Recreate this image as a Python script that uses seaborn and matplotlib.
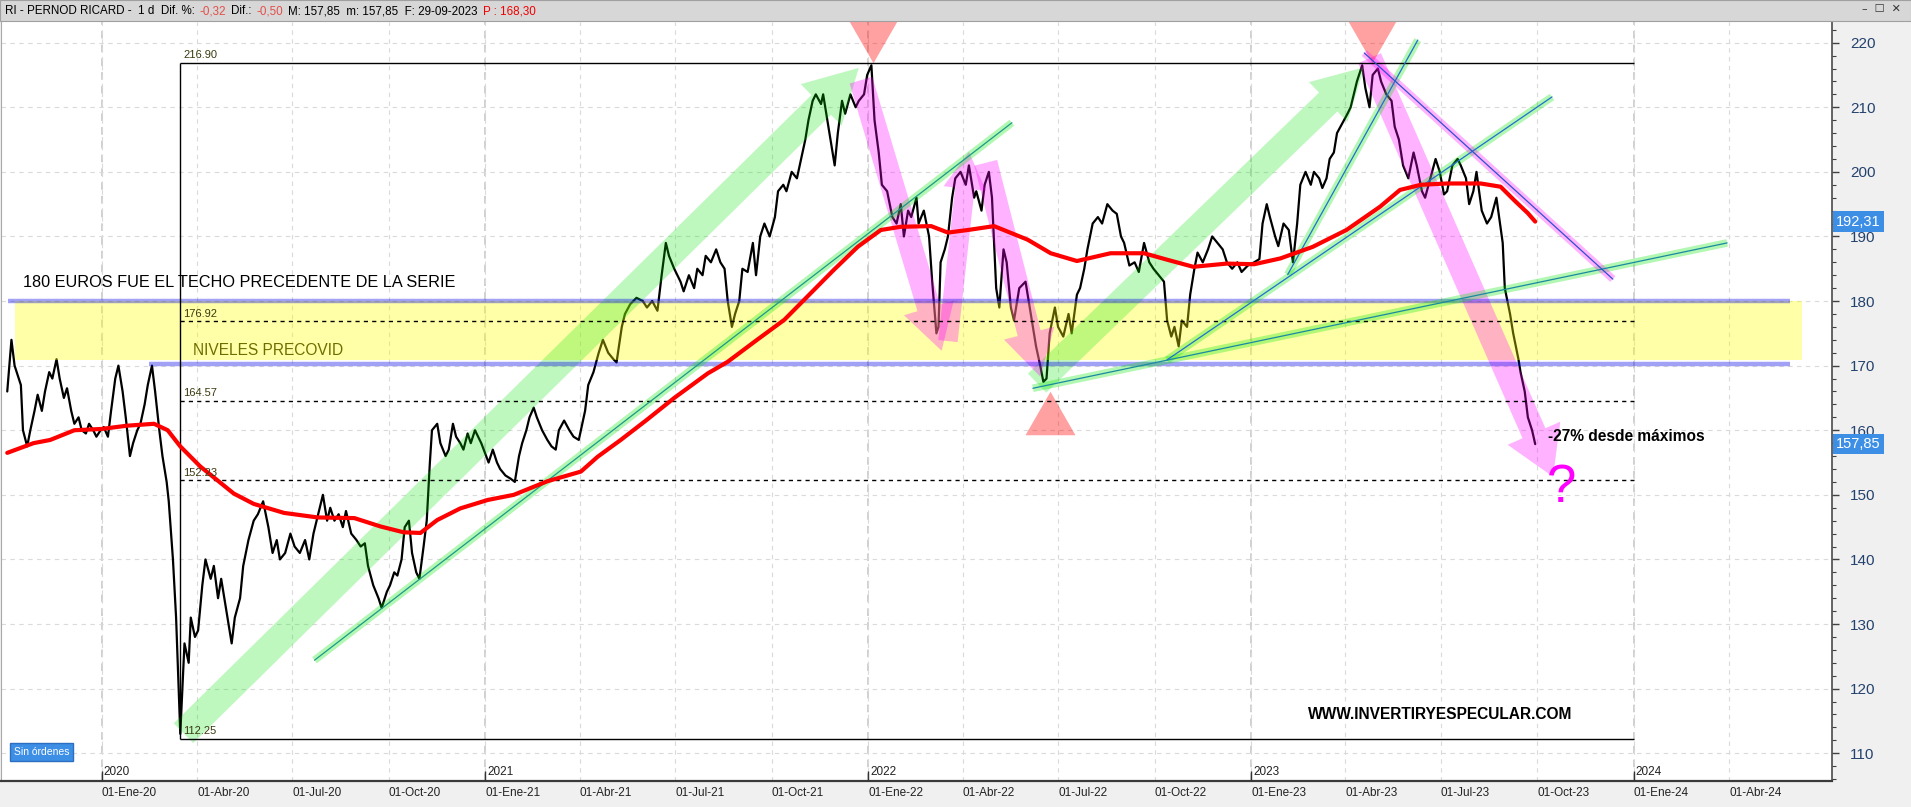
import pandas as pd
import matplotlib
matplotlib.use("Agg")
import matplotlib.pyplot as plt
import matplotlib.dates as mdates
import matplotlib.ticker as mticker
from matplotlib.patches import Rectangle
import seaborn as sns

# ---------------- datos (cierres aprox.) ----------------
fechas_2019 = ["10-03", "10-07", "10-10", "10-14", "10-16", "10-18", "10-22", "10-25", "10-29",
               "11-01", "11-05", "11-08", "11-12", "11-15", "11-19", "11-22", "11-26", "11-29",
               "12-03", "12-06", "12-10", "12-13", "12-17", "12-20", "12-24", "12-27", "12-31"]
cierre_2019 = [166, 174, 170, 168, 167, 160, 157.5, 160, 163,
               165.5, 163, 166, 169, 168, 171, 168, 165, 166.5,
               163, 161, 162, 160, 159.5, 161, 160, 159, 160]

fechas_2020 = ["01-03", "01-07", "01-10", "01-14", "01-17", "01-21", "01-24", "01-28", "01-31",
               "02-04", "02-07", "02-11", "02-14", "02-18", "02-21", "02-25", "02-28",
               "03-03", "03-05", "03-09", "03-12", "03-16", "03-18", "03-20", "03-24", "03-26", "03-30",
               "04-02", "04-06", "04-09", "04-14", "04-17", "04-21", "04-24", "04-28",
               "05-01", "05-04", "05-07", "05-12", "05-15", "05-20", "05-25", "05-29",
               "06-03", "06-08", "06-12", "06-16", "06-19", "06-24", "06-29",
               "07-03", "07-08", "07-13", "07-17", "07-21", "07-27", "07-30",
               "08-03", "08-06", "08-10", "08-14", "08-18", "08-21", "08-26", "08-31",
               "09-04", "09-08", "09-11", "09-16", "09-21", "09-24", "09-29",
               "10-02", "10-06", "10-09", "10-13", "10-16", "10-20", "10-23", "10-27", "10-30",
               "11-03", "11-06", "11-09", "11-11", "11-16", "11-19", "11-24", "11-27",
               "12-01", "12-04", "12-08", "12-11", "12-15", "12-18", "12-22", "12-28"]
cierre_2020 = [160.5, 159, 163, 168, 170, 166, 162, 156, 158,
               160, 161, 164, 167, 170, 166, 160, 156,
               152, 149, 140, 131, 113, 120, 127, 124, 131, 128,
               129, 136, 140, 137, 139, 134, 137, 133,
               130, 127, 131, 134, 139, 143, 146, 147,
               149, 145, 141, 143, 140, 141, 144,
               142, 141, 143, 140, 144, 148, 150,
               146, 148, 146, 147, 145, 147.5, 144, 143,
               142, 142.5, 139, 136, 134, 132.5, 135,
               136, 138, 137.5, 140, 145, 146, 141, 138, 137,
               142, 146, 155, 160, 161, 158, 156, 157,
               161, 159, 158, 157, 159.5, 158, 160, 158]

fechas_2021 = ["01-04", "01-08", "01-12", "01-15", "01-20", "01-25", "01-29",
               "02-02", "02-05", "02-09", "02-12", "02-16", "02-19", "02-24",
               "03-01", "03-05", "03-09", "03-12", "03-17", "03-22", "03-26", "03-31",
               "04-06", "04-09", "04-14", "04-19", "04-23", "04-28",
               "05-03", "05-06", "05-11", "05-14", "05-19", "05-25", "05-31",
               "06-04", "06-09", "06-14", "06-18", "06-22", "06-25", "06-30",
               "07-06", "07-09", "07-14", "07-19", "07-22", "07-27", "07-30",
               "08-04", "08-09", "08-13", "08-17", "08-20", "08-24", "08-27", "08-31",
               "09-03", "09-08", "09-13", "09-16", "09-20", "09-24", "09-29",
               "10-04", "10-07", "10-12", "10-15", "10-20", "10-25", "10-29",
               "11-02", "11-05", "11-09", "11-12", "11-17", "11-19", "11-23", "11-26", "11-30",
               "12-03", "12-07", "12-10", "12-15", "12-20", "12-23", "12-28", "12-31"]
cierre_2021 = [155, 157, 155, 154, 153, 152.5, 152,
               156, 158, 160, 162, 163.5, 162, 160,
               158.5, 157.5, 157, 160, 161.5, 160, 159, 158.5,
               163, 167, 169, 172, 174, 172,
               171, 170.5, 176, 178, 179.5, 180.5, 180,
               179, 180, 178.5, 184, 189, 187, 185,
               183, 181.5, 184, 182, 185, 184, 187,
               186, 188, 186, 185, 180, 176, 178, 180,
               185, 184.5, 189, 184, 190, 192, 190,
               193, 197, 198, 197, 200, 199, 202,
               205, 208, 211, 212, 210.5, 212, 208, 205, 201,
               206, 211, 209, 212, 210, 211, 212, 215]

fechas_2022 = ["01-04", "01-07", "01-11", "01-14", "01-19", "01-24", "01-28",
               "02-01", "02-04", "02-08", "02-11", "02-16", "02-18", "02-23", "02-28",
               "03-03", "03-07", "03-09", "03-11", "03-15", "03-18", "03-22", "03-25", "03-30",
               "04-04", "04-07", "04-12", "04-14", "04-19", "04-22", "04-26", "04-29",
               "05-03", "05-06", "05-10", "05-13", "05-17", "05-20", "05-25", "05-31",
               "06-03", "06-07", "06-10", "06-14", "06-17", "06-20", "06-23", "06-28",
               "07-01", "07-06", "07-11", "07-14", "07-19", "07-22", "07-26", "07-29",
               "08-03", "08-08", "08-12", "08-17", "08-22", "08-26", "08-30",
               "09-02", "09-07", "09-12", "09-16", "09-21", "09-26", "09-30",
               "10-05", "10-10", "10-13", "10-17", "10-20", "10-24", "10-27",
               "11-01", "11-04", "11-08", "11-11", "11-16", "11-21", "11-25", "11-30",
               "12-05", "12-09", "12-14", "12-19", "12-23", "12-29"]
cierre_2022 = [216.5, 208, 203, 198, 197, 193, 192,
               195, 190, 194, 193, 196, 192, 194, 190,
               183, 175, 176, 186, 188, 190, 196, 199, 200,
               198, 201, 196, 197, 194, 198, 200, 196,
               182, 179, 188, 186, 179, 177, 182, 183,
               180, 176, 173, 170, 167.5, 168, 175, 179,
               176, 174.5, 178, 175, 181, 182, 185, 188,
               192, 193, 192, 195, 194, 193.5, 190,
               189, 185.5, 186, 184.5, 189, 186, 185,
               184, 183, 177, 174.5, 176, 173, 177,
               176, 181, 185, 187.5, 186, 188, 190, 189,
               188, 186, 185, 186, 184.5, 185.5]

fechas_2023 = ["01-04", "01-09", "01-12", "01-16", "01-19", "01-24", "01-27",
               "02-01", "02-06", "02-10", "02-14", "02-17", "02-22", "02-27",
               "03-02", "03-07", "03-10", "03-14", "03-17", "03-21", "03-24", "03-29",
               "04-03", "04-06", "04-12", "04-17", "04-20", "04-24", "04-27",
               "05-02", "05-05", "05-10", "05-15", "05-18", "05-22", "05-26", "05-31",
               "06-05", "06-08", "06-13", "06-16", "06-21", "06-26", "06-30",
               "07-04", "07-07", "07-12", "07-17", "07-20", "07-25", "07-28",
               "08-01", "08-04", "08-09", "08-14", "08-18", "08-23", "08-29", "08-31",
               "09-05", "09-08", "09-13", "09-15", "09-19", "09-22", "09-26", "09-29"]
cierre_2023 = [186, 186.5, 192, 195, 193, 190, 188.5,
               192, 191, 186, 192, 198, 200, 198,
               200, 199, 197.5, 199, 202, 203, 206, 207.5,
               209, 210, 214, 216.5, 213, 210, 215,
               216, 214, 212, 211, 207, 205, 201, 199,
               203, 201, 197, 196, 199, 202, 200,
               196.5, 197, 201, 202, 201, 199, 195,
               197, 200, 194, 192, 193, 196, 189, 182,
               178, 175, 171, 169, 166, 162, 160, 157.85]

# media movil (linea roja)
ma_fechas = ["2019-10-03", "2019-10-28", "2019-11-13", "2019-12-06", "2020-01-01", "2020-01-25",
             "2020-02-20", "2020-03-04", "2020-03-16", "2020-04-04", "2020-04-20", "2020-05-06",
             "2020-05-25", "2020-06-23", "2020-07-25", "2020-08-29", "2020-09-23", "2020-10-15",
             "2020-10-31", "2020-11-16", "2020-12-08", "2021-01-03", "2021-01-28", "2021-03-01",
             "2021-04-02", "2021-04-18", "2021-05-10", "2021-06-03", "2021-06-30", "2021-08-01",
             "2021-08-20", "2021-09-17", "2021-10-13", "2021-11-04", "2021-11-29", "2021-12-22",
             "2022-01-13", "2022-02-01", "2022-03-02", "2022-03-18", "2022-04-06", "2022-05-01",
             "2022-06-02", "2022-06-24", "2022-07-19", "2022-08-20", "2022-09-21", "2022-10-13",
             "2022-11-07", "2022-12-09", "2023-01-04", "2023-01-29", "2023-03-01", "2023-04-02",
             "2023-05-04", "2023-05-23", "2023-06-12", "2023-07-07", "2023-08-08", "2023-08-27",
             "2023-09-09", "2023-09-22", "2023-09-29"]
ma_valores = [156.5, 158, 158.5, 160, 160.2, 160.7,
              161, 160, 157.5, 154.4, 152.3, 150.2,
              148.6, 147.2, 146.5, 146.4, 145.1, 144.2,
              144.1, 146.1, 147.9, 149.2, 150, 152.1,
              153.6, 155.9, 158.5, 161.5, 165, 168.8,
              170.6, 174, 177.1, 180.7, 184.8, 188.4,
              191, 191.5, 191.6, 190.6, 191, 191.6,
              189.5, 187.4, 186.2, 187.4, 187.4, 186.4,
              185.3, 185.8, 185.7, 186.6, 188.4, 191,
              194.6, 197.2, 198, 198.2, 198.2, 197.7,
              195.6, 193.6, 192.3]

ticks_trimestre = ["2020-01-01", "2020-04-01", "2020-07-01", "2020-10-01",
                   "2021-01-01", "2021-04-01", "2021-07-01", "2021-10-01",
                   "2022-01-01", "2022-04-01", "2022-07-01", "2022-10-01",
                   "2023-01-01", "2023-04-01", "2023-07-01", "2023-10-01",
                   "2024-01-01", "2024-04-01"]
etiquetas_trimestre = ["01-Ene-20", "01-Abr-20", "01-Jul-20", "01-Oct-20",
                       "01-Ene-21", "01-Abr-21", "01-Jul-21", "01-Oct-21",
                       "01-Ene-22", "01-Abr-22", "01-Jul-22", "01-Oct-22",
                       "01-Ene-23", "01-Abr-23", "01-Jul-23", "01-Oct-23",
                       "01-Ene-24", "01-Abr-24"]
anios = ["2020", "2021", "2022", "2023", "2024"]

niveles_fibo = [216.90, 176.92, 164.57, 152.23, 112.25]
techo_serie = 180.0
suelo_precovid = 170.3
precios_marcados = [192.31, 157.85]
etiquetas_marcadas = ["192,31", "157,85"]

# ---------------- tabla ----------------
partes = []
for anio, fs, cs in [(2019, fechas_2019, cierre_2019), (2020, fechas_2020, cierre_2020),
                     (2021, fechas_2021, cierre_2021), (2022, fechas_2022, cierre_2022),
                     (2023, fechas_2023, cierre_2023)]:
    partes.append(pd.DataFrame({"fecha": pd.to_datetime([f"{anio}-{f}" for f in fs]), "cierre": cs}))
df = pd.concat(partes, ignore_index=True)
df_ma = pd.DataFrame({"fecha": pd.to_datetime(ma_fechas), "media": ma_valores})


def d(s):
    return mdates.date2num(pd.Timestamp(s))


sns.set_style("white")
plt.rcParams["font.family"] = ["Liberation Sans", "DejaVu Sans"]

fig = plt.figure(figsize=(19.11, 8.07), dpi=100, facecolor="#F0F0F0")
ax = fig.add_axes([0.0005, 26 / 807, 1832 / 1911 - 0.0005, (781 - 22) / 807])
ax.set_facecolor("white")

# precio y media
sns.lineplot(data=df, x="fecha", y="cierre", color="black", lw=1.6, ax=ax, zorder=2)
sns.lineplot(data=df_ma, x="fecha", y="media", color="#FF0000", lw=3.0, ax=ax, zorder=6)

ax.set_xlim(d("2019-09-27"), d("2024-07-08"))
ax.set_ylim(105.7, 223.2)

# banda amarilla y lineas azules
ax.fill_between([d("2019-10-10"), d("2024-06-09")], 170.8, 180.0, color="#FFFF00", alpha=0.34, lw=0, zorder=3)
ax.hlines(techo_serie, d("2019-10-04"), d("2024-05-29"), color="#0000E6", alpha=0.37, lw=3.2, zorder=4)
ax.hlines(suelo_precovid, d("2020-02-15"), d("2024-05-29"), color="#0000E6", alpha=0.37, lw=3.2, zorder=4)

# niveles fibonacci
x0f, x1f = d("2020-03-16"), d("2024-01-01")
for i, niv in enumerate(niveles_fibo):
    estilo = "-" if i in (0, len(niveles_fibo) - 1) else (0, (3, 3))
    ax.hlines(niv, x0f, x1f, color="black", lw=1.0, ls=estilo, zorder=5)
    ax.text(x0f + 3, niv + 0.35, f"{niv:.2f}", fontsize=8, color="#3A3A10", va="bottom", ha="left", zorder=7)
ax.vlines(x0f, niveles_fibo[-1], niveles_fibo[0], color="black", lw=1.0, zorder=5)


# flechas traslucidas
def flecha(p0, p1, color, alpha, ancho, hw=2.3, hl=2.0):
    ax.annotate("", xy=(d(p1[0]), p1[1]), xytext=(d(p0[0]), p0[1]),
                arrowprops=dict(arrowstyle=f"simple,head_length={hl},head_width={hw},tail_width=1.0",
                                mutation_scale=ancho, fc=color, ec="none", alpha=alpha,
                                shrinkA=0, shrinkB=0), zorder=3)


verde = "#00E600"
rosa = "#FF00FF"
flecha(("2020-03-19", 113.1), ("2021-12-23", 216.1), verde, 0.25, 20, hw=2.1, hl=1.9)
flecha(("2022-06-11", 167.3), ("2023-04-19", 216.2), verde, 0.25, 19, hw=2.1, hl=1.9)
flecha(("2021-12-25", 214.2), ("2022-03-12", 172.3), rosa, 0.3, 17, hw=2.2, hl=1.9)
flecha(("2022-03-18", 173.8), ("2022-04-07", 203.1), rosa, 0.3, 14, hw=2.2, hl=1.9)
flecha(("2022-04-23", 201.4), ("2022-06-14", 168.3), rosa, 0.3, 17, hw=2.2, hl=1.9)
flecha(("2023-04-24", 217.6), ("2023-10-16", 152.8), rosa, 0.3, 18, hw=2.3, hl=1.9)


# lineas de tendencia (linea fina + halo)
def tendencia(p0, p1, halo, fina, alpha=0.3):
    xs = [d(p0[0]), d(p1[0])]
    ys = [p0[1], p1[1]]
    ax.plot(xs, ys, color=halo, lw=5.5, alpha=alpha, solid_capstyle="butt", zorder=4)
    ax.plot(xs, ys, color=fina, lw=0.9, zorder=5)


tendencia(("2020-07-22", 124.4), ("2022-05-18", 207.6), verde, "#1A9A8A")
tendencia(("2022-06-07", 166.5), ("2024-03-30", 189.0), verde, "#1A8AA0")
tendencia(("2022-10-13", 170.9), ("2023-10-15", 211.6), verde, "#2070D0")
tendencia(("2023-02-05", 184.1), ("2023-06-09", 220.4), verde, "#2070D0")
tendencia(("2023-04-19", 218.4), ("2023-12-12", 183.4), rosa, "#3050D0")

# triangulos rojos
tri_abajo = [(-1, 0.87), (1, 0.87), (0, -0.87)]
tri_arriba = [(-1, -0.87), (1, -0.87), (0, 0.87)]
for fecha, precio, marca in [("2022-01-06", 220.3, tri_abajo), ("2023-04-26", 220.3, tri_abajo),
                             ("2022-06-23", 162.6, tri_arriba)]:
    ax.plot(d(fecha), precio, marker=marca, ms=36, color="#FF0000", alpha=0.37, mec="none",
            clip_on=False, zorder=3)

# textos
ax.text(d("2019-10-18"), 182.8, "180 EUROS FUE EL TECHO PRECEDENTE DE LA SERIE", fontsize=11.7,
        color="black", va="center", ha="left", zorder=8)
ax.text(d("2020-03-28"), 172.4, "NIVELES PRECOVID", fontsize=11.2, color="#6E6E00",
        va="center", ha="left", zorder=8)
ax.text(d("2023-10-11"), 159.0, "-27% desde máximos", fontsize=11.2, fontweight="bold",
        color="black", va="center", ha="left", zorder=8)
ax.text(d("2023-02-24"), 116.0, "WWW.INVERTIRYESPECULAR.COM", fontsize=11.2, fontweight="bold",
        color="black", va="center", ha="left", zorder=8)
ax.text(d("2023-10-24"), 151.0, "?", fontsize=38, color="#FF00FF", va="center", ha="center", zorder=8)

# rejilla
ax.set_xticks([d(t) for t in ticks_trimestre])
ax.set_xticklabels(etiquetas_trimestre)
for lbl in ax.get_xticklabels():
    lbl.set_horizontalalignment("left")
ax.grid(True, ls=(0, (4, 4)), color="#DADADA", lw=0.8, zorder=0)
for a in anios:
    ax.axvline(d(f"{a}-01-01"), color="#C4C4C4", ls=(0, (5, 4)), lw=1.1, zorder=0)
    ax.vlines(d(f"{a}-01-01"), 0, 0.013, transform=ax.get_xaxis_transform(), color="#333333",
              lw=1.0, clip_on=False, zorder=9)
    ax.text(d(f"{a}-01-01") + 2, 0.004, a, transform=ax.get_xaxis_transform(), fontsize=8.5,
            color="#222222", ha="left", va="bottom", zorder=9)

ax.tick_params(axis="x", direction="out", length=7.5, width=1, color="#333333",
               labelsize=8.5, labelcolor="#222222", pad=-3)

ax.yaxis.tick_right()
ax.set_yticks(range(110, 221, 10))
ax.yaxis.set_minor_locator(mticker.MultipleLocator(2))
ax.tick_params(axis="y", which="major", direction="out", length=5, width=1, color="#404040",
               labelsize=11, labelcolor="#24426E", pad=8)
ax.tick_params(axis="y", which="minor", direction="out", length=3, width=0.8, color="#404040")
ax.set_xlabel("")
ax.set_ylabel("")

ax.spines["top"].set_visible(False)
ax.spines["left"].set_color("#A8A8A8")
ax.spines["right"].set_color("#4A4A4A")
ax.spines["right"].set_linewidth(1.2)
ax.spines["bottom"].set_color("#3A3A3A")
ax.spines["bottom"].set_linewidth(1.6)

# precios destacados en el eje
for val, txt in zip(precios_marcados, etiquetas_marcadas):
    ax.annotate(txt, xy=(1.0, val), xycoords=("axes fraction", "data"), xytext=(3, 0),
                textcoords="offset points", ha="left", va="center", color="white", fontsize=10.5,
                bbox=dict(boxstyle="square,pad=0.22", fc="#3D8FE6", ec="none"),
                annotation_clip=False, zorder=10)

# cabecera
fig.add_artist(Rectangle((0, 1 - 21 / 807), 1, 21 / 807, transform=fig.transFigure,
                         fc="#D7D7D7", ec="#A0A0A0", lw=0.8, zorder=20))
piezas = [("RI - PERNOD RICARD -  1 d  Dif. %:", "black"), ("-0,32", "#E2504A"),
          ("Dif.:", "black"), ("-0,50", "#E2504A"),
          ("M: 157,85  m: 157,85  F: 29-09-2023", "black"), ("P : 168,30", "#F00000")]
renderer = fig.canvas.get_renderer()
x = 5
for t, c in piezas:
    txt = fig.text(x / 1911, 1 - 11 / 807, t, fontsize=8.4, color=c, va="center", ha="left", zorder=21)
    x += txt.get_window_extent(renderer).width + 5
fig.text(1862 / 1911, 1 - 9 / 807, "–  ☐  ✕", fontsize=8, color="#333333", va="center",
         ha="left", family="DejaVu Sans", zorder=21)

fig.text(14 / 1911, 1 - 752 / 807, "Sin órdenes", fontsize=7.5, color="white", va="center",
         ha="left", bbox=dict(boxstyle="square,pad=0.35", fc="#3D8FE6", ec="#2A6FC0"), zorder=21)

fig.savefig("out.png", dpi=100, facecolor=fig.get_facecolor())
